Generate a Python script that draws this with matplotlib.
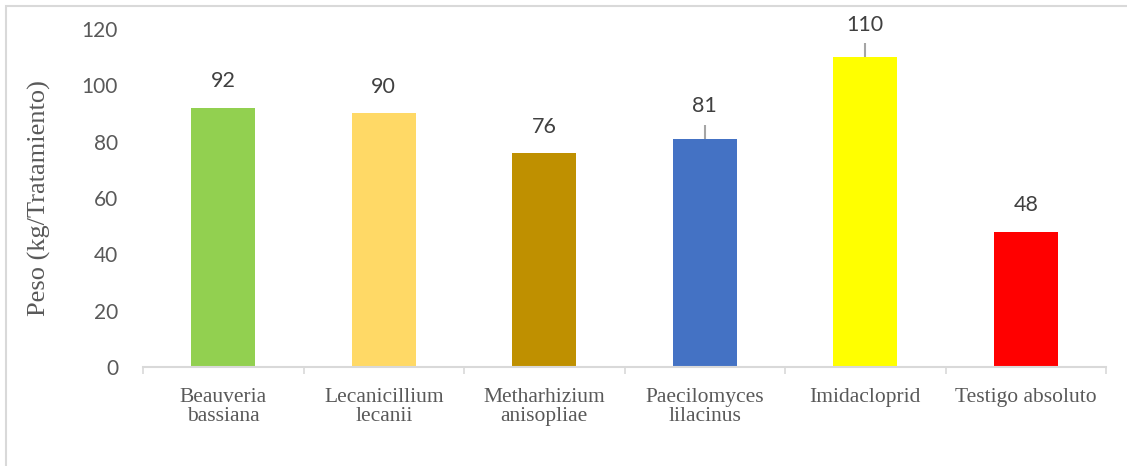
import numpy as np
import matplotlib.pyplot as plt
from matplotlib.patches import Rectangle

# Peso por tratamiento
tratamientos = ["Beauveria\nbassiana", "Lecanicillium\nlecanii", "Metharhizium\nanisopliae",
                "Paecilomyces\nlilacinus", "Imidacloprid", "Testigo absoluto"]
peso = [92, 90, 76, 81, 110, 48]
error = [0, 0, 0, 5, 5, 0]
colores = ["#92D050", "#FFD966", "#BF9000", "#4472C4", "#FFFF00", "#FF0000"]

fig = plt.figure(figsize=(11.27, 4.66), dpi=100)
ax = fig.add_axes([0.1269, 0.2124, 0.8545, 0.7254])

x = np.arange(len(peso))
ax.bar(x, peso, width=0.4, color=colores, zorder=2)
ax.errorbar(x, peso, yerr=[np.zeros(len(error)), error], fmt="none",
            ecolor="#A5A5A5", elinewidth=1.5, capsize=0, zorder=3)

# etiquetas de valor
for xi, v, e in zip(x, peso, error):
    off = 23.5 if e > 0 else 19
    ax.annotate(str(v), (xi, v), xytext=(0, off), textcoords="offset points",
                ha="center", va="center", fontsize=15.5, color="#404040", family="Lato")

ax.set_xlim(-0.5, len(peso) - 0.5)
ax.set_ylim(0, 120)
ax.set_yticks(range(0, 121, 20))
ax.set_xticks(x)
ax.set_xticklabels(tratamientos, family="Liberation Serif", fontsize=15.5, color="#595959",
                   linespacing=1.0)
ax.set_xticks(np.arange(-0.5, len(peso), 1), minor=True)
ax.tick_params(axis="x", which="major", length=0, pad=15)
ax.tick_params(axis="x", which="minor", length=5, width=1.2, color="#D9D9D9")
ax.tick_params(axis="y", length=0, pad=18, labelsize=15, labelcolor="#595959")
for lab in ax.get_yticklabels():
    lab.set_family("Lato")

for s in ["top", "right", "left"]:
    ax.spines[s].set_visible(False)
ax.spines["bottom"].set_color("#D9D9D9")
ax.spines["bottom"].set_linewidth(1.5)

ax.set_ylabel("Peso (kg/Tratamiento)", family="Liberation Serif", fontsize=19,
              color="#595959", labelpad=22)

# marco del grafico
fig.patches.append(Rectangle((6 / 1127, -0.1), 1.2, 1.1 - 6 / 466, transform=fig.transFigure,
                             fill=False, edgecolor="#D9D9D9", linewidth=1.5))

fig.savefig("out.png", dpi=100)
